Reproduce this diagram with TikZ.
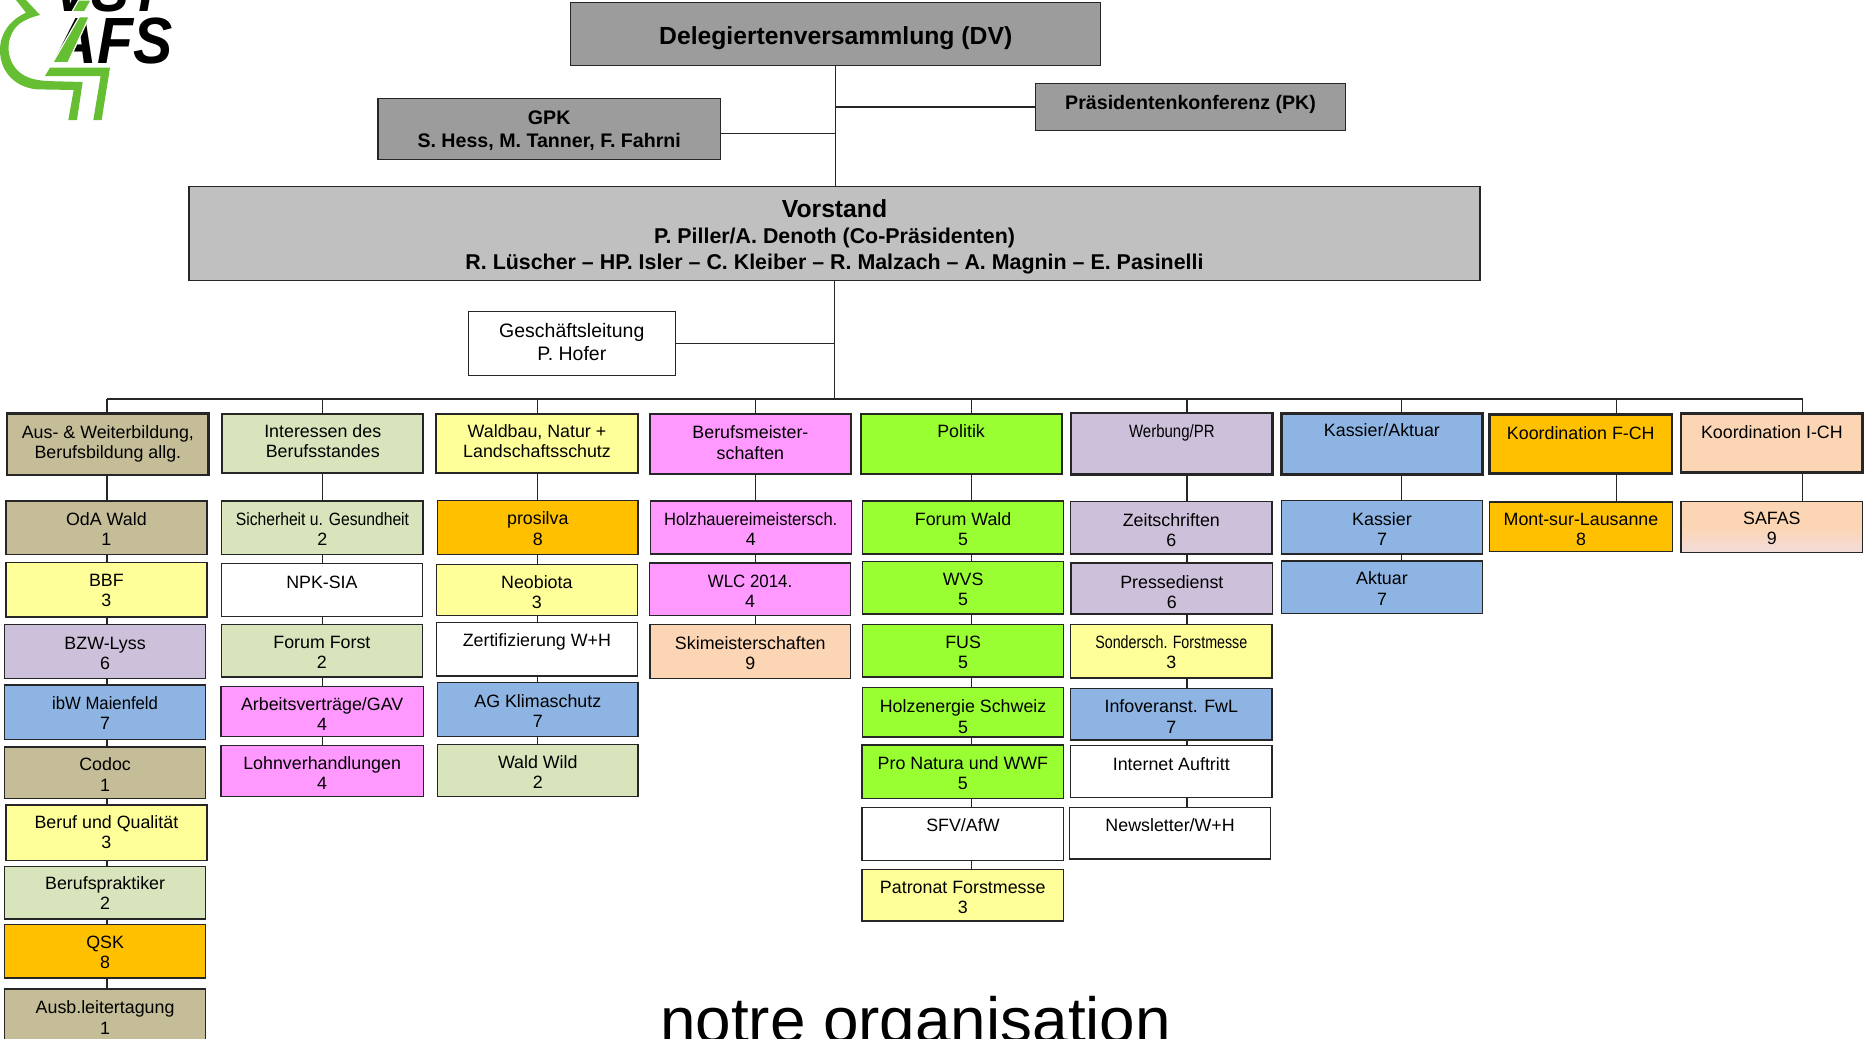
\documentclass[tikz,border=0pt]{standalone}
\usepackage{fontspec}
\setmainfont{Liberation Sans}
\definecolor{cdv}{HTML}{9C9C9C}
\definecolor{cvor}{HTML}{C0C0C0}
\definecolor{ctan}{HTML}{C4BD97}
\definecolor{cgrn}{HTML}{D7E4BC}
\definecolor{cyel}{HTML}{FFFF99}
\definecolor{cmag}{HTML}{FF99FF}
\definecolor{clim}{HTML}{99FF33}
\definecolor{cvio}{HTML}{CCC0DA}
\definecolor{cblu}{HTML}{8DB4E2}
\definecolor{corg}{HTML}{FFC000}
\definecolor{cpea}{HTML}{FCD5B4}
\definecolor{cpin}{HTML}{F2DCDB}
\definecolor{clogo}{HTML}{66BE32}
\definecolor{cline}{HTML}{262626}
\tikzset{
  bx/.style={draw=cline,line width=1.1pt,anchor=north west,inner sep=0pt,outer sep=0pt,align=center,font=\fontsize{15}{17}\selectfont},
  hd/.style={bx,line width=2.3pt},
  conn/.style={draw=cline,line width=1pt},
  ty/.store in=\tyv,
  tx/.store in=\txv
}
\newcommand\sq[2]{\scalebox{#1}[1]{#2}}
\newcommand\bxx[8][]{%
  \pgfmathsetmacro\wbx{#4-#2}\pgfmathsetmacro\hbx{#5-#3}%
  \node[bx,#1,fill=#6,minimum width=\wbx pt,minimum height=\hbx pt] (#7) at (#2,#3) {};
  \node[bx,tx=0,ty=1.5,#1,draw=none,fill=none,anchor=center,xshift=\txv pt,yshift=-\tyv pt] (#7t) at (#7.center) {#8}}
\newcommand\joinbox[3]{\draw[conn] (#1 |- #2.south) -- (#1 |- #3.north);}
\begin{document}
\begin{tikzpicture}[x=1pt,y=-1pt]
\useasboundingbox (0,0) rectangle (1568,873.2);
\clip (0,0) rectangle (1568,873.2);
% logo
\node[anchor=base west,inner sep=0pt,font=\fontsize{52}{52}\selectfont\bfseries\itshape] (vst) at (45,9.5) {\scalebox{0.92}[1]{VST}};
\node[anchor=base west,inner sep=0pt,font=\fontsize{55}{55}\selectfont\bfseries\itshape] (afs) at (46,53.5) {\scalebox{0.9}[1]{AFS}};
\begin{scope}[x=0.2804pt,y=-0.2804pt]
\fill[clogo] (78,0) -- (120,45) .. controls (90,52) and (60,65) .. (45,85) .. controls (15,125) and (20,185) .. (60,218) .. controls (90,242) and (130,243) .. (170,244) -- (248,246) -- (231,360) -- (205,360) -- (221,270) -- (110,268) .. controls (50,262) and (0,220) .. (0,150) .. controls (0,100) and (30,60) .. (78,38) -- (48,0) -- cycle;
\fill[clogo,draw=white,line width=1pt] (158,188) -- (238,50) -- (268,50) -- (204,188) -- cycle;
\fill[clogo,draw=white,line width=1pt] (216,35) -- (236,0) -- (274,0) -- (254,35) -- cycle;
\fill[clogo] (135,228) -- (150,203) -- (330,203) -- (305,360) -- (280,360) -- (302,228) -- cycle;
\end{scope}
% coordinates
\coordinate (sa) at (703,0);
\coordinate (sb) at (702,0);
\coordinate (c1) at (90,335.6);
\coordinate (c2) at (271,335.6);
\coordinate (c3) at (452,335.6);
\coordinate (c4) at (635.5,335.6);
\coordinate (c5) at (817.5,335.6);
\coordinate (c6) at (998.5,335.6);
\coordinate (c7) at (1179,335.6);
\coordinate (c8) at (1360,335.6);
\coordinate (c9) at (1516.5,335.6);
% top boxes
\bxx[ty=3.5,font=\fontsize{20.8}{24}\selectfont\bfseries]{480}{2}{926}{55}{cdv}{dv}{Delegiertenversammlung (DV)};
\bxx[ty=1.5,font=\fontsize{16.5}{19.5}\selectfont\bfseries]{318}{83}{606}{134}{cdv}{gpk}{GPK\\S. Hess, M. Tanner, F. Fahrni};
\bxx[ty=-2,font=\fontsize{16.5}{19}\selectfont\bfseries]{871}{70}{1132}{110}{cdv}{pk}{Präsidentenkonferenz (PK)};
\bxx[ty=2.5,font=\fontsize{18}{22}\selectfont\bfseries]{159}{157}{1245}{236}{cvor}{vor}{{\fontsize{20.8}{22}\selectfont Vorstand}\\P. Piller/A. Denoth (Co-Präsidenten)\\R. Lüscher – HP. Isler – C. Kleiber – R. Malzach – A. Magnin – E. Pasinelli};
\bxx[ty=-1.5,font=\fontsize{16.4}{19}\selectfont]{394}{262}{568}{316}{white}{gl}{Geschäftsleitung\\P. Hofer};
% heads
\bxx[hd,ty=0]{6}{347.7}{175.5}{399.5}{ctan}{h1}{Aus- \& Weiterbildung,\\Berufsbildung allg.};
\bxx[hd,line width=1.8pt,ty=-2]{187}{348}{356}{398}{cgrn}{h2}{Interessen des\\Berufsstandes};
\bxx[hd,line width=1.8pt,ty=-2]{367}{348}{536.5}{398}{cyel}{h3}{Waldbau, Natur +\\Landschaftsschutz};
\bxx[hd,line width=1.8pt,ty=-1]{546.5}{348}{716}{398.7}{cmag}{h4}{Berufsmeister-\\schaften};
\bxx[hd,line width=1.8pt,ty=-2]{724}{348}{893}{398.7}{clim}{h5}{Politik\\\mbox{}};
\bxx[hd,ty=-2]{901}{347.5}{1070.5}{399}{cvio}{h6}{\sq{0.84}{Werbung/PR}\\\mbox{}};
\bxx[hd,ty=-3]{1078}{348}{1247}{399}{cblu}{h7}{Kassier/Aktuar\\\mbox{}};
\bxx[hd,ty=-1]{1253}{348.5}{1406.5}{398.5}{corg}{h8}{Koordination F-CH\\\mbox{}};
\bxx[hd,ty=-1]{1414}{347.7}{1567}{397.6}{cpea}{h9}{Koordination I-CH\\\mbox{}};
% column 1
\bxx{5}{421.4}{174}{466.3}{ctan}{a1}{OdA Wald\\1};
\bxx[ty=0.5]{5}{473}{174}{519}{cyel}{a2}{BBF\\3};
\bxx{4}{525.5}{172.8}{570.6}{cvio}{a3}{BZW-Lyss\\6};
\bxx[ty=0.5]{4}{576.2}{172.8}{622.2}{cblu}{a4}{\sq{0.937}{ibW Maienfeld}\\7};
\bxx{4}{628.4}{172.8}{671.6}{ctan}{a5}{Codoc\\1};
\bxx[ty=-0.5]{5}{677.2}{174}{723.8}{cyel}{a6}{Beruf und Qualität\\3};
\bxx[ty=0.5]{4}{729}{172.8}{773}{cgrn}{a7}{Berufspraktiker\\2};
\bxx[ty=0.5]{4}{777.9}{172.8}{822.8}{corg}{a8}{QSK\\8};
\bxx[ty=0]{4}{832}{172.8}{880}{ctan}{a9}{Ausb.leitertagung\\1};
% column 2
\bxx{186.6}{421.4}{355.9}{466.3}{cgrn}{b1}{\sq{0.88}{Sicherheit u. Gesundheit}\\2};
\bxx{186.3}{474}{355.3}{518.8}{white}{b2}{NPK-SIA\\\mbox{}};
\bxx[ty=1.5]{186.3}{525.5}{355.3}{569.5}{cgrn}{b3}{Forum Forst\\2};
\bxx[ty=2]{186}{577.4}{356}{619.4}{cmag}{b4}{Arbeitsverträge/GAV\\4};
\bxx[ty=2]{186}{627}{356}{670}{cmag}{b5}{Lohnverhandlungen\\4};
% column 3
\bxx[ty=1]{368}{421}{536.8}{466.3}{corg}{d1}{prosilva\\8};
\bxx[ty=2]{367.2}{474.7}{536}{517.6}{cyel}{d2}{Neobiota\\3};
\bxx[ty=0.5]{367.2}{523.8}{536}{568.7}{white}{d3}{Zertifizierung W+H\\\mbox{}};
\bxx{368}{574.3}{536.8}{619.4}{cblu}{d4}{AG Klimaschutz\\7};
\bxx[ty=1.5]{368}{626}{536.8}{670}{cgrn}{d5}{Wald Wild\\2};
% column 4
\bxx{547}{421.4}{716}{466}{cmag}{e1}{\sq{0.93}{Holzhauereimeistersch.}\\4};
\bxx[ty=2]{546.5}{473.6}{715.5}{517.6}{cmag}{e2}{\sq{0.946}{WLC 2014.}\\4};
\bxx[ty=1.5]{546.8}{525.5}{715.5}{570.9}{cpea}{e3}{Skimeisterschaften\\9};
% column 5
\bxx{725.5}{421.4}{894.8}{466}{clim}{f1}{Forum Wald\\5};
\bxx[ty=1.5]{725.5}{472.5}{894.8}{516.5}{clim}{f2}{WVS\\5};
\bxx[ty=1.5]{725.5}{525.2}{894.8}{569.5}{clim}{f3}{FUS\\5};
\bxx[ty=3.5]{725.5}{578.5}{894.8}{620}{clim}{f4}{Holzenergie Schweiz\\5};
\bxx[ty=1.5]{725.2}{626.7}{894.8}{671.6}{clim}{f5}{Pro Natura und WWF\\5};
\bxx[ty=1]{725.2}{679.2}{894.8}{723.8}{white}{f6}{SFV/AfW\\\mbox{}};
\bxx[ty=2]{725.2}{731.6}{894.5}{774.8}{cyel}{f7}{Patronat Forstmesse\\3};
% column 6
\bxx[ty=2]{900.6}{422}{1070}{466}{cvio}{g1}{Zeitschriften\\6};
\bxx[ty=3]{901}{473.6}{1070.5}{516.5}{cvio}{g2}{Pressedienst\\6};
\bxx[ty=1]{900.6}{525.2}{1070}{570.3}{cyel}{g3}{\sq{0.80}{Sondersch. Forstmesse}\\3};
\bxx[ty=2]{900.6}{579}{1070}{622.5}{cblu}{g4}{Infoveranst. FwL\\7};
\bxx[ty=2]{900.6}{627.3}{1070}{670.8}{white}{g5}{Internet Auftritt\\\mbox{}};
\bxx[ty=1.5]{899.6}{679.4}{1069}{722.6}{white}{g6}{Newsletter/W+H\\\mbox{}};
% column 7-9
\bxx{1078}{421}{1247}{466}{cblu}{k1}{Kassier\\7};
\bxx[ty=1]{1078}{472}{1247}{516}{cblu}{k2}{Aktuar\\7};
\bxx[ty=2.5]{1253}{422.3}{1406.8}{463.8}{corg}{m1}{Mont-sur-Lausanne\\8};
\node[bx,top color=cpea,bottom color=cpin,middle color=cpea,minimum width=153pt,minimum height=43.2pt] (n1) at (1414,421.7) {};
\node[bx,draw=none,anchor=center,yshift=-1pt] (n1t) at (n1.center) {SAFAS\\9};
% connectors
\draw[conn] (sa |- dv.south) -- (sa |- vor.north);
\draw[conn] ([yshift=-3.5pt]gpk.east) -- ([yshift=-3.5pt]gpk.east -| sa);
\draw[conn] (pk.west) -- (pk.west -| sa);
\draw[conn] (sb |- vor.south) -- (sb |- c1);
\draw[conn] (gl.east) -- (gl.east -| sb);
\draw[conn] (c1) -- (c9);
\foreach \cc/\hh in {c1/h1,c2/h2,c3/h3,c4/h4,c5/h5,c6/h6,c7/h7,c8/h8,c9/h9}{
  \draw[conn] (\cc) -- (\cc |- \hh.north);
}
\foreach \p/\q in {h1/a1,a1/a2,a2/a3,a3/a4,a4/a5,a5/a6,a6/a7,a7/a8,a8/a9}{\joinbox{c1}{\p}{\q}}
\foreach \p/\q in {h2/b1,b1/b2,b2/b3,b3/b4,b4/b5}{\joinbox{c2}{\p}{\q}}
\foreach \p/\q in {h3/d1,d1/d2,d2/d3,d3/d4,d4/d5}{\joinbox{c3}{\p}{\q}}
\foreach \p/\q in {h4/e1,e1/e2,e2/e3}{\joinbox{c4}{\p}{\q}}
\foreach \p/\q in {h5/f1,f1/f2,f2/f3,f3/f4,f4/f5,f5/f6,f6/f7}{\joinbox{c5}{\p}{\q}}
\foreach \p/\q in {h6/g1,g1/g2,g2/g3,g3/g4,g4/g5,g5/g6}{\joinbox{c6}{\p}{\q}}
\foreach \p/\q in {h7/k1,k1/k2}{\joinbox{c7}{\p}{\q}}
\joinbox{c8}{h8}{m1}
\joinbox{c9}{h9}{n1}
% title
\node[anchor=base west,inner sep=0pt,font=\fontsize{53.7}{60}\selectfont] (title) at (555,877) {notre organisation};
\end{tikzpicture}
\end{document}
